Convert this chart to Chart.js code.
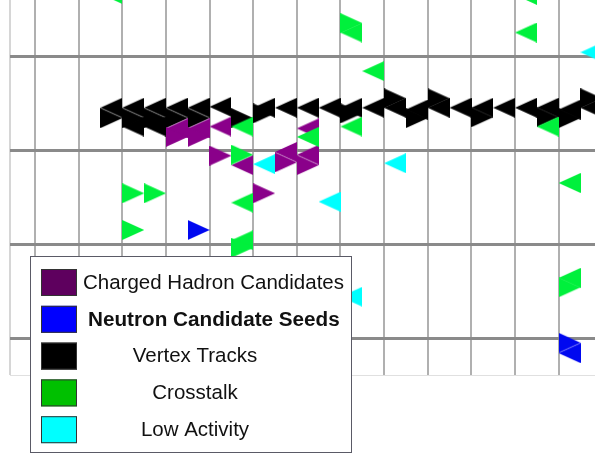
<!DOCTYPE html>
<html>
<head>
<meta charset="utf-8">
<script src="https://cdn.jsdelivr.net/npm/chart.js@4.4.0/dist/chart.umd.min.js"></script>
<style>
    html, body { margin: 0; padding: 0; background: #fff; }
    #wrap { width: 595px; height: 456px; }
</style>
</head>
<body>
<div id="wrap"><canvas id="eventChart" width="595" height="456"></canvas></div>
<script>
// column (x) is in detector bars, row (y) in tenths of a module, 0 = first module boundary
const legendLabels = ["Charged Hadron Candidates", "Neutron Candidate Seeds", "Vertex Tracks", "Crosstalk", "Low Activity"];

const vertexX = [1.75, 1.75, 2.25, 2.25, 2.25, 2.75, 2.75, 2.75, 3.25, 3.25, 3.75, 3.75, 4.25, 4.75, 5.25, 5.25, 5.75, 6.25, 6.75, 7.25, 7.25, 7.75, 8.25, 8.25, 8.75, 8.75, 9.25, 9.25, 9.75, 10.25, 10.25, 10.75, 11.25, 11.75, 11.75, 12.25, 12.25, 12.75, 12.75];
const vertexY = [5.4, 6.5, 5.4, 6.5, 7.4, 5.4, 6.5, 7.4, 5.4, 6.5, 5.4, 6.5, 5.3, 6.5, 5.4, 6.0, 5.4, 5.4, 5.4, 5.4, 6.0, 5.4, 4.4, 5.4, 5.6, 6.5, 4.4, 5.4, 5.4, 5.4, 6.4, 5.4, 5.4, 5.4, 6.4, 5.6, 6.5, 4.4, 5.4];
const vertexDir = ["L", "R", "L", "R", "L", "L", "R", "L", "L", "R", "L", "R", "L", "R", "L", "R", "L", "L", "L", "L", "R", "L", "R", "L", "L", "R", "R", "L", "L", "L", "R", "L", "L", "L", "R", "L", "R", "R", "L"];

const hadronX = [3.25, 3.25, 3.75, 3.75, 4.25, 4.25, 4.75, 5.25, 5.75, 5.75, 6.25, 6.25, 6.25];
const hadronY = [7.6, 8.5, 7.6, 8.5, 7.4, 10.5, 11.5, 14.5, 10.1, 11.2, 7.6, 10.4, 11.5];
const hadronDir = ["L", "R", "L", "R", "L", "R", "L", "R", "L", "R", "L", "L", "R"];

const crosstalkX = [1.75, 7.25, 7.25, 11.25, 11.25, 7.75, 4.75, 4.75, 6.25, 7.25, 11.75, 2.25, 2.75, 4.75, 2.25, 4.75, 4.75, 12.25, 12.25, 12.25];
const crosstalkY = [-6.7, -3.6, -2.6, -2.6, -6.6, 1.5, 7.4, 10.4, 8.5, 7.4, 7.4, 14.5, 14.5, 15.5, 18.4, 19.5, 20.3, 13.4, 23.5, 24.5];
const crosstalkDir = ["L", "R", "L", "L", "L", "L", "L", "R", "L", "L", "L", "R", "R", "L", "R", "L", "R", "L", "L", "R"];

const lowX = [12.75, 5.25, 8.25, 6.75, 7.25];
const lowY = [-0.5, 11.4, 11.3, 15.4, 25.5];
const lowDir = ["L", "L", "L", "L", "L"];

const neutronX = [3.75, 12.25, 12.25];
const neutronY = [18.4, 30.4, 31.5];
const neutronDir = ["R", "R", "L"];

const columnLines = [0, 1, 2, 3, 4, 5, 6, 7, 8, 9, 10, 11, 12];
const moduleLines = [0, 10, 20, 30];

const xMin = -0.573, xMax = 12.832;
const yMin = -6.06, yMax = 33.83;

// triangle marker, half a bar wide
function makeTriangle(color, dir) {
    let c = document.createElement("canvas");
    c.width = 22;
    c.height = 20;
    let g = c.getContext("2d");
    g.fillStyle = color;
    g.beginPath();
    if (dir === "L") {
        g.moveTo(0, 10); g.lineTo(22, 0); g.lineTo(22, 20);
    } else {
        g.moveTo(0, 0); g.lineTo(22, 10); g.lineTo(0, 20);
    }
    g.closePath();
    g.fill();
    return c;
}

function series(label, xs, ys, dirs, color, swatch, order) {
    let icons = { L: makeTriangle(color, "L"), R: makeTriangle(color, "R") };
    return {
        label: label,
        data: xs.map((x, i) => ({ x: x, y: ys[i], dir: dirs[i] })),
        swatch: swatch,
        order: order,
        clip: false,
        pointRadius: 12,
        pointBorderWidth: 0,
        pointStyle: (ctx) => icons[(ctx.raw && ctx.raw.dir) || "L"],
    };
}

const datasets = [
    series(legendLabels[2], vertexX, vertexY, vertexDir, "#000000", "#000000", 5),
    series(legendLabels[0], hadronX, hadronY, hadronDir, "#8a008a", "#5e005e", 4),
    series(legendLabels[3], crosstalkX, crosstalkY, crosstalkDir, "#00f03c", "#00c000", 3),
    series(legendLabels[4], lowX, lowY, lowDir, "#00ffff", "#00ffff", 2),
    series(legendLabels[1], neutronX, neutronY, neutronDir, "#0008f0", "#0000ff", 1),
];

// boxed legend in the lower left, one row per category
const boxLegend = {
    id: "boxLegend",
    afterDraw(chart) {
        let ctx = chart.ctx;
        ctx.save();
        ctx.fillStyle = "#ffffff";
        ctx.fillRect(30.5, 256.5, 321, 196);
        ctx.strokeStyle = "#5a5a66";
        ctx.lineWidth = 1;
        ctx.strokeRect(30.5, 256.5, 321, 196);
        ctx.textBaseline = "middle";
        ctx.textAlign = "center";
        legendLabels.forEach((label, i) => {
            let ds = chart.data.datasets.find((d) => d.label === label);
            let top = 269 + i * 36.8;
            ctx.fillStyle = ds.swatch;
            ctx.fillRect(41, top, 36, 27);
            ctx.strokeStyle = "#333333";
            ctx.strokeRect(41.5, top + 0.5, 35, 26);
            let bold = i === 1;
            ctx.font = (bold ? "bold 20.7px" : "20.5px") + " 'Liberation Sans', Arial, sans-serif";
            ctx.fillStyle = "#111111";
            let w = ctx.measureText(label).width;
            let cx = Math.max(195, (bold ? 88 : 83) + w / 2);
            ctx.fillText(label, cx, top + 14);
        });
        ctx.restore();
    },
};

new Chart(document.getElementById("eventChart"), {
    type: "scatter",
    data: { datasets: datasets },
    options: {
        responsive: false,
        animation: false,
        devicePixelRatio: 1,
        events: [],
        layout: { autoPadding: false, padding: { left: 10, top: 0, right: 0, bottom: 81 } },
        plugins: { legend: { display: false }, tooltip: { enabled: false } },
        scales: {
            x: {
                type: "linear",
                min: xMin,
                max: xMax,
                afterBuildTicks: (axis) => {
                    axis.ticks = [xMin].concat(columnLines).map((v) => ({ value: v }));
                },
                ticks: { display: false },
                border: { display: false },
                grid: {
                    drawTicks: false,
                    color: (ctx) => (ctx.tick && ctx.tick.value === xMin ? "#d6d6d6" : "#b0b0b0"),
                    lineWidth: 2,
                },
            },
            y: {
                type: "linear",
                reverse: true,
                min: yMin,
                max: yMax,
                afterBuildTicks: (axis) => {
                    axis.ticks = moduleLines.concat([yMax]).map((v) => ({ value: v }));
                },
                ticks: { display: false },
                border: { display: false },
                grid: {
                    drawTicks: false,
                    color: (ctx) => (ctx.tick && ctx.tick.value === yMax ? "#e0e0e0" : "#8a8a8a"),
                    lineWidth: (ctx) => (ctx.tick && ctx.tick.value === yMax ? 1 : 3),
                },
            },
        },
    },
    plugins: [boxLegend],
});
</script>
</body>
</html>
